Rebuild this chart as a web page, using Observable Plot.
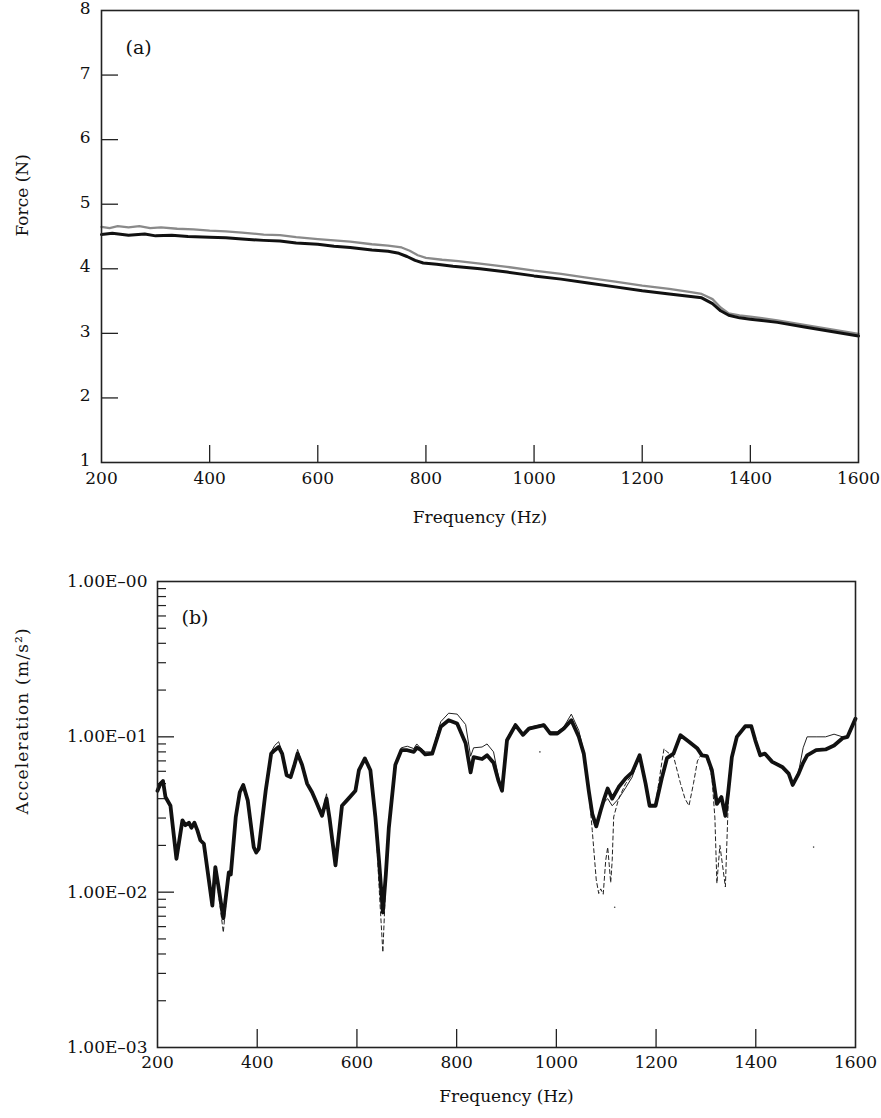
<!DOCTYPE html>
<html>
<head>
<meta charset="utf-8">
<script src="https://cdn.jsdelivr.net/npm/d3@7"></script>
<script src="https://cdn.jsdelivr.net/npm/@observablehq/plot@0.6"></script>
<style>
  html, body { margin: 0; padding: 0; background: white; }
  svg { display: block; }
</style>
</head>
<body>
<script>
// ---------- Panel (a): Force ----------
const forceFreqBlack = [200,220,250,280,300,330,360,400,430,460,500,530,560,600,630,660,700,730,750,765,780,795,820,850,900,950,1000,1050,1100,1150,1200,1250,1290,1310,1330,1345,1360,1380,1400,1450,1500,1550,1600];
const forceBlack     = [4.53,4.55,4.52,4.54,4.51,4.52,4.50,4.49,4.48,4.46,4.44,4.43,4.40,4.38,4.35,4.33,4.29,4.27,4.24,4.19,4.13,4.09,4.07,4.04,4.00,3.95,3.89,3.84,3.78,3.72,3.66,3.61,3.57,3.55,3.46,3.35,3.28,3.24,3.22,3.17,3.10,3.03,2.96];
const forceFreqGrey  = [200,215,230,250,270,290,310,340,370,400,430,460,500,530,560,600,630,660,700,730,755,770,785,800,830,860,900,950,1000,1050,1100,1150,1200,1250,1290,1310,1330,1345,1360,1380,1400,1450,1500,1550,1600];
const forceGrey      = [4.65,4.63,4.66,4.64,4.66,4.63,4.64,4.62,4.61,4.59,4.58,4.56,4.53,4.52,4.49,4.46,4.44,4.42,4.38,4.36,4.33,4.28,4.21,4.17,4.14,4.12,4.08,4.03,3.97,3.92,3.86,3.80,3.74,3.69,3.64,3.61,3.53,3.40,3.31,3.28,3.26,3.20,3.13,3.06,2.99];
const forceTickValues = [1,2,3,4,5,6,7,8];
const forceInnerTicks = [2,3,4,5,6,7];

// ---------- Panel (b): Acceleration ----------
const accFreq  = [200,206,211,216,226,238,250,256,263,268,274,280,286,293,310,316,322,332,343,347,357,365,372,381,393,398,403,417,428,435,443,450,459,467,474,481,490,500,510,517,530,539,545,557,570,583,597,604,616,627,637,645,652,658,664,677,689,701,714,720,727,737,751,768,784,801,818,828,834,851,861,874,884,891,901,918,933,945,975,988,1002,1015,1030,1045,1055,1065,1072,1080,1089,1096,1103,1112,1125,1139,1152,1167,1179,1187,1199,1212,1222,1235,1249,1266,1283,1292,1302,1312,1322,1331,1339,1345,1352,1362,1379,1391,1399,1409,1418,1433,1453,1466,1474,1486,1495,1503,1521,1540,1557,1574,1584,1600];
const accThick = [0.045,0.050,0.052,0.041,0.036,0.0164,0.029,0.027,0.028,0.026,0.028,0.025,0.0216,0.0205,0.0082,0.0145,0.011,0.0068,0.0134,0.013,0.0305,0.044,0.049,0.039,0.0195,0.018,0.019,0.045,0.078,0.082,0.086,0.078,0.0566,0.055,0.065,0.078,0.066,0.050,0.044,0.039,0.031,0.040,0.030,0.0149,0.036,0.040,0.045,0.061,0.0726,0.061,0.0305,0.015,0.0074,0.013,0.026,0.066,0.082,0.082,0.080,0.085,0.083,0.077,0.078,0.116,0.128,0.122,0.091,0.059,0.074,0.072,0.076,0.068,0.052,0.045,0.095,0.119,0.103,0.113,0.119,0.105,0.105,0.113,0.128,0.100,0.078,0.045,0.032,0.0265,0.0337,0.040,0.0465,0.040,0.0475,0.054,0.059,0.076,0.050,0.036,0.036,0.055,0.073,0.078,0.1025,0.093,0.084,0.076,0.075,0.061,0.037,0.041,0.031,0.045,0.074,0.100,0.117,0.117,0.095,0.076,0.078,0.069,0.064,0.058,0.049,0.058,0.068,0.076,0.082,0.083,0.088,0.098,0.100,0.131];
const accThin  = [0.045,0.050,0.052,0.041,0.036,0.0164,0.029,0.027,0.028,0.026,0.028,0.025,0.0216,0.0205,0.0082,0.0145,0.011,0.0068,0.0134,0.013,0.0305,0.044,0.049,0.039,0.0195,0.018,0.019,0.045,0.080,0.088,0.093,0.080,0.0566,0.055,0.066,0.083,0.067,0.050,0.044,0.039,0.032,0.043,0.030,0.0149,0.036,0.040,0.045,0.061,0.0726,0.061,0.0305,0.015,0.0074,0.013,0.026,0.066,0.085,0.087,0.084,0.090,0.085,0.080,0.080,0.125,0.142,0.140,0.120,0.075,0.085,0.086,0.090,0.080,0.055,0.045,0.098,0.122,0.105,0.115,0.121,0.108,0.108,0.116,0.140,0.110,0.080,0.045,0.032,0.0265,0.034,0.038,0.040,0.036,0.040,0.047,0.055,0.076,0.050,0.036,0.036,0.055,0.073,0.078,0.1025,0.093,0.084,0.076,0.075,0.061,0.037,0.041,0.031,0.045,0.074,0.100,0.117,0.117,0.095,0.076,0.078,0.069,0.064,0.058,0.049,0.060,0.085,0.100,0.100,0.100,0.104,0.100,0.100,0.131];
const dashFreq = [200,206,211,216,226,238,250,256,263,268,
                  274,280,286,293,310,316,322,332,338,343,
                  347,357,365,372,381,393,398,403,417,428,
                  435,443,450,459,467,474,481,490,500,510,
                  517,530,539,545,557,570,583,597,604,616,
                  627,637,645,652,658,664,677,689,701,714,
                  720,727,737,751,768,784,801,818,828,834,
                  851,861,874,884,891,901,918,933,945,975,
                  988,1002,1015,1030,1045,1055,1065,1072,1080,1085,
                  1089,1094,1099,1103,1106,1109,1112,1115,1125,1128,
                  1139,1152,1167,1179,1187,1199,1212,1216,1222,1235,
                  1249,1258,1266,1275,1283,1292,1302,1312,1318,1322,
                  1328,1331,1339,1345,1352,1362,1379,1391,1399,1409,
                  1418,1433,1453,1466,1474,1486,1503,1521,1540,1557,
                  1574,1584,1600];
const dashVal  = [0.045,0.050,0.052,0.041,0.036,0.0164,0.029,0.027,0.028,0.026,
                  0.028,0.025,0.0216,0.0205,0.0082,0.0145,0.010,0.0055,0.009,0.0134,
                  0.013,0.0305,0.044,0.049,0.039,0.0195,0.018,0.019,0.045,0.078,
                  0.082,0.086,0.078,0.0566,0.055,0.065,0.078,0.066,0.050,0.044,
                  0.039,0.031,0.040,0.030,0.0149,0.036,0.040,0.045,0.061,0.0726,
                  0.061,0.0305,0.010,0.0041,0.012,0.026,0.066,0.082,0.082,0.080,
                  0.085,0.083,0.077,0.078,0.116,0.128,0.122,0.091,0.059,0.074,
                  0.072,0.076,0.068,0.052,0.045,0.095,0.119,0.103,0.113,0.119,
                  0.105,0.105,0.113,0.128,0.100,0.078,0.045,0.025,0.012,0.0098,
                  0.0105,0.0097,0.016,0.0195,0.015,0.0115,0.016,0.0305,0.040,0.042,
                  0.050,0.057,0.074,0.050,0.036,0.037,0.070,0.084,0.080,0.075,
                  0.050,0.040,0.036,0.050,0.070,0.078,0.075,0.055,0.030,0.0114,
                  0.020,0.017,0.0108,0.040,0.074,0.100,0.117,0.117,0.095,0.076,
                  0.078,0.069,0.064,0.058,0.049,0.058,0.076,0.082,0.083,0.088,
                  0.098,0.100,0.131];
const strayFreq = [967,1117,1516];
const strayVal  = [0.080,0.008,0.0195];
const accTickValues = [0.001,0.01,0.1,1];
const accTickLabels = ["1.00E\u201303","1.00E\u201302","1.00E\u201301","1.00E\u201300"];
const accMajorInner = [0.01,0.1];
const accMinorMultipliers = [2,3,4,5,6,7,8,9];

const freqTicks = [200,400,600,800,1000,1200,1400,1600];
const freqInnerTicks = [400,600,800,1000,1200,1400];

// ---------- build tables ----------
const blackA = forceFreqBlack.map((f,i)=>({f, v: forceBlack[i]}));
const greyA  = forceFreqGrey.map((f,i)=>({f, v: forceGrey[i]}));
const thickB = accFreq.map((f,i)=>({f, v: accThick[i]}));
const thinB  = accFreq.map((f,i)=>({f, v: accThin[i]}));
const dashB  = dashFreq.map((f,i)=>({f, v: dashVal[i]}));
const strayB = strayFreq.map((f,i)=>({f, v: strayVal[i]}));
const minorB = [0.001,0.01,0.1].flatMap(d => accMinorMultipliers.map(m => d*m));

const font = "DejaVu Serif";
const baseStyle = {fontFamily: "'DejaVu Serif', serif", fontSize: "16px", background: "white", color: "#111", overflow: "visible"};
const plain = d => String(d);

// Panel (a)
const wA = 881, hA = 560, mlA = 101, mrA = 23, mtA = 10, mbA = 98;
const pwA = wA - mlA - mrA, phA = hA - mtA - mbA;
const plotA = Plot.plot({
  width: wA, height: hA,
  marginTop: mtA, marginBottom: mbA, marginLeft: mlA, marginRight: mrA,
  style: baseStyle,
  x: {domain: [200, 1600]},
  y: {domain: [1, 8]},
  marks: [
    Plot.tickY(forceInnerTicks, {insetRight: pwA - 17, stroke: "#222", strokeWidth: 1.3}),
    Plot.tickX(freqInnerTicks, {insetTop: phA - 17, stroke: "#222", strokeWidth: 1.3}),
    Plot.axisY(forceTickValues, {tickSize: 0, tickPadding: 11, dy: -2, label: null, fontSize: 17, fontFamily: font, tickFormat: plain}),
    Plot.axisX(freqTicks, {tickSize: 0, tickPadding: 9, label: null, fontSize: 17, fontFamily: font, tickFormat: plain}),
    Plot.line(greyA, {x: "f", y: "v", stroke: "#8a8a8a", strokeWidth: 2.3}),
    Plot.line(blackA, {x: "f", y: "v", stroke: "#111", strokeWidth: 3}),
    Plot.frame({stroke: "#222", strokeWidth: 1.6}),
    Plot.text(["(a)"], {frameAnchor: "top-left", dx: 24, dy: 30, textAnchor: "start", fontSize: 19, fontFamily: font}),
    Plot.text(["Frequency (Hz)"], {frameAnchor: "bottom", dy: 60, fontSize: 17, fontFamily: font}),
    Plot.text(["Force (N)"], {frameAnchor: "left", dx: -79, rotate: -90, fontSize: 17, fontFamily: font})
  ]
});

// Panel (b)
const wB = 881, hB = 558, mlB = 157, mrB = 26, mtB = 21, mbB = 71;
const pwB = wB - mlB - mrB, phB = hB - mtB - mbB;
const plotB = Plot.plot({
  width: wB, height: hB,
  marginTop: mtB, marginBottom: mbB, marginLeft: mlB, marginRight: mrB,
  style: baseStyle,
  x: {domain: [200, 1600]},
  y: {type: "log", domain: [0.001, 1]},
  marks: [
    Plot.tickY(minorB, {insetRight: pwB - 9, stroke: "#222", strokeWidth: 1.2}),
    Plot.tickY(accMajorInner, {insetRight: pwB - 17, stroke: "#222", strokeWidth: 1.3}),
    Plot.tickX(freqInnerTicks, {insetTop: phB - 18, stroke: "#222", strokeWidth: 1.3}),
    Plot.axisY(accTickValues, {tickSize: 0, tickPadding: 10, label: null, fontSize: 17, fontFamily: font,
      tickFormat: d => accTickLabels[accTickValues.indexOf(d)]}),
    Plot.axisX(freqTicks, {tickSize: 0, tickPadding: 8, label: null, fontSize: 17, fontFamily: font, tickFormat: plain}),
    Plot.line(dashB, {x: "f", y: "v", stroke: "#222", strokeWidth: 1, strokeDasharray: "4,3"}),
    Plot.line(thinB, {x: "f", y: "v", stroke: "#222", strokeWidth: 1}),
    Plot.line(thickB, {x: "f", y: "v", stroke: "#111", strokeWidth: 3.8}),
    Plot.dot(strayB, {x: "f", y: "v", r: 0.8, fill: "#444"}),
    Plot.frame({stroke: "#222", strokeWidth: 1.6}),
    Plot.text(["(b)"], {frameAnchor: "top-left", dx: 24, dy: 29, textAnchor: "start", fontSize: 19, fontFamily: font}),
    Plot.text(["Frequency (Hz)"], {frameAnchor: "bottom", dy: 54, fontSize: 17, fontFamily: font}),
    Plot.text(["Acceleration (m/s\u00b2)"], {frameAnchor: "left", dx: -135, rotate: -90, fontSize: 17, fontFamily: font})
  ]
});

// slight letter spacing on the rotated acceleration title, as in the original
plotB.querySelectorAll("text").forEach(t => {
  if (t.textContent.startsWith("Acceleration")) t.setAttribute("letter-spacing", "1.2");
});

document.body.appendChild(plotA);
document.body.appendChild(plotB);
</script>
</body>
</html>
